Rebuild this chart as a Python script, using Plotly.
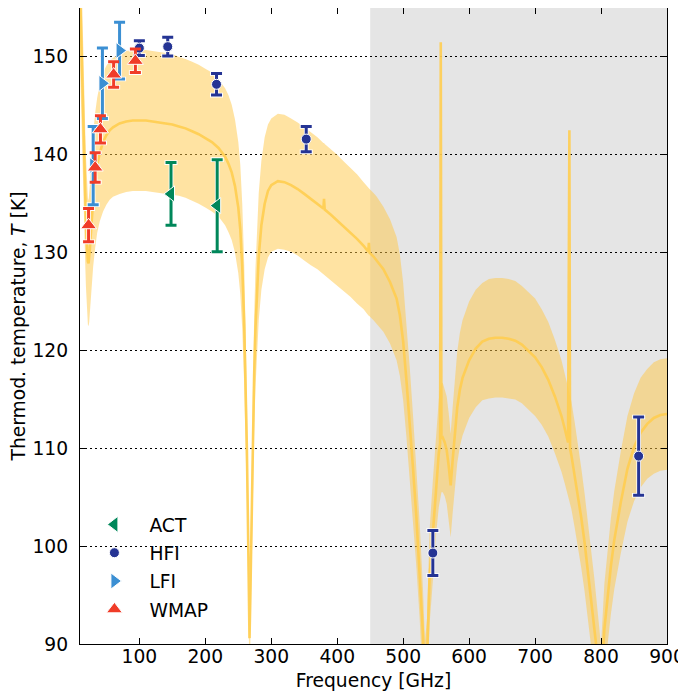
import plotly.graph_objects as go

# ---------------- data ----------------
freq = [10, 11, 12, 13, 14, 15, 16, 17, 18, 19, 20, 21, 22, 23, 24, 25, 26, 28, 30, 33, 36, 40, 45, 50, 55, 60, 70, 80, 90, 100,
        110, 120, 130, 140, 150, 160, 170, 180, 190, 200, 210, 220, 230, 235, 240, 245, 250, 253, 256, 259, 261, 263, 264, 265, 266, 267, 268, 269, 270, 271,
        272, 274, 276, 278, 281, 285, 290, 295, 300, 310, 320, 330, 340, 350, 360, 370, 379, 380, 381, 390, 400, 410, 420, 430, 440, 447, 448, 449, 455, 460,
        470, 480, 490, 495, 500, 505, 510, 515, 520, 525, 530, 533, 536, 540, 545, 550, 554, 556, 557, 558, 560, 563, 566, 569, 572, 575, 578, 582, 586, 590,
        600, 610, 620, 630, 640, 650, 660, 670, 680, 690, 700, 710, 720, 730, 740, 745, 750, 752, 753, 755, 760, 765, 770, 775, 780, 785, 790, 795, 800, 805,
        810, 815, 820, 830, 840, 850, 860, 870, 880, 890, 900]

model_T = [157.0, 154.0, 151.0, 148.4, 145.6, 143.0, 140.5, 138.0, 135.5, 133.2, 131.3, 129.9, 129.1, 128.9, 129.4, 130.4, 131.5, 133.6, 135.4, 137.4, 138.9, 140.2, 141.3, 142.0, 142.5, 142.8, 143.2, 143.4, 143.5, 143.5,
           143.5, 143.4, 143.3, 143.2, 143.1, 142.9, 142.7, 142.4, 142.1, 141.7, 141.3, 140.7, 139.8, 139.1, 138.2, 136.8, 134.6, 132.4, 128.6, 122.6, 117.2, 110.0, 105.4, 100.4, 95.2, 90.6, 93.8, 98.6, 103.2, 107.4,
           111.2, 117.4, 122.2, 125.8, 129.6, 132.8, 135.0, 136.3, 136.9, 137.3, 137.2, 136.9, 136.5, 136.0, 135.5, 135.0, 134.5, 135.5, 134.4, 133.9, 133.3, 132.7, 132.1, 131.4, 130.7, 130.1, 131.0, 130.0, 129.6, 129.2,
           128.3, 127.0, 125.3, 123.6, 120.9, 116.9, 112.6, 107.9, 103.0, 97.5, 91.0, 86.0, 88.0, 96.8, 101.6, 106.6, 109.5, 110.5, 151.5, 111.0, 111.1, 110.6, 109.8, 108.2, 106.2, 108.8, 111.5, 114.2, 116.0, 117.2,
           119.0, 120.2, 120.9, 121.2, 121.3, 121.3, 121.2, 121.0, 120.6, 120.0, 119.3, 118.3, 117.0, 115.3, 113.3, 112.0, 110.6, 142.5, 110.0, 109.3, 107.3, 105.2, 102.9, 100.4, 97.6, 95.0, 92.0, 88.8, 85.5, 91.5,
           95.0, 98.0, 100.6, 104.5, 107.9, 110.1, 111.6, 112.5, 113.1, 113.4, 113.5]

model_lo = [149.2, 146.3, 143.5, 141.0, 138.3, 135.9, 133.5, 131.1, 128.7, 126.5, 124.7, 123.4, 122.6, 122.5, 122.9, 123.9, 124.9, 126.9, 128.6, 130.5, 132.0, 133.2, 134.2, 134.9, 135.4, 135.7, 136.0, 136.2, 136.3, 136.3,
            136.3, 136.2, 136.1, 136.0, 135.9, 135.8, 135.6, 135.3, 135.0, 134.6, 134.2, 133.7, 132.8, 132.1, 131.3, 130.0, 127.9, 125.8, 122.2, 116.5, 111.3, 104.5, 100.1, 95.4, 90.4, 86.1, 89.1, 93.7, 98.0, 102.0,
            105.6, 111.5, 116.1, 119.5, 123.1, 126.2, 128.3, 129.5, 130.1, 130.4, 130.3, 130.1, 129.7, 129.2, 128.7, 128.3, 127.8, 127.7, 127.7, 127.2, 126.6, 126.1, 125.5, 124.8, 124.2, 123.6, 123.5, 123.5, 123.1, 122.7,
            121.9, 120.7, 119.0, 117.4, 114.9, 111.1, 107.0, 102.5, 97.9, 92.6, 86.5, 81.7, 83.6, 92.0, 96.5, 101.3, 104.0, 105.0, 105.2, 105.5, 105.5, 105.1, 104.3, 102.8, 100.9, 103.4, 105.9, 108.5, 110.2, 111.3,
            113.1, 114.2, 114.9, 115.1, 115.2, 115.2, 115.1, 115.0, 114.6, 114.0, 113.3, 112.4, 111.2, 109.5, 107.6, 106.4, 105.1, 104.8, 104.5, 103.8, 101.9, 99.9, 97.8, 95.4, 92.7, 90.3, 87.4, 84.4, 81.2, 86.9,
            90.3, 93.1, 95.6, 99.3, 102.5, 104.6, 106.0, 106.9, 107.4, 107.7, 107.8]

model_hi = [164.9, 161.7, 158.6, 155.8, 152.9, 150.2, 147.5, 144.9, 142.3, 139.9, 137.9, 136.4, 135.6, 135.3, 135.9, 136.9, 138.1, 140.3, 142.2, 144.3, 145.8, 147.2, 148.4, 149.1, 149.6, 149.9, 150.4, 150.6, 150.7, 150.7,
            150.7, 150.6, 150.5, 150.4, 150.3, 150.0, 149.8, 149.5, 149.2, 148.8, 148.4, 147.7, 146.8, 146.1, 145.1, 143.6, 141.3, 139.0, 135.0, 128.7, 123.1, 115.5, 110.7, 105.4, 100.0, 95.1, 98.5, 103.5, 108.4, 112.8,
            116.8, 123.3, 128.3, 132.1, 136.1, 139.4, 141.8, 143.1, 143.7, 144.2, 144.1, 143.7, 143.3, 142.8, 142.3, 141.8, 141.2, 141.2, 141.1, 140.6, 140.0, 139.3, 138.7, 138.0, 137.2, 136.6, 136.6, 136.5, 136.1, 135.7,
            134.7, 133.4, 131.6, 129.8, 126.9, 122.7, 118.2, 113.3, 108.2, 102.4, 95.6, 90.3, 92.4, 101.6, 106.7, 111.9, 115.0, 116.0, 116.3, 116.6, 116.7, 116.1, 115.3, 113.6, 111.5, 114.2, 117.1, 119.9, 121.8, 123.1,
            125.0, 126.2, 126.9, 127.3, 127.4, 127.4, 127.3, 127.1, 126.6, 126.0, 125.3, 124.2, 122.9, 121.1, 119.0, 117.6, 116.1, 115.8, 115.5, 114.8, 112.7, 110.5, 108.0, 105.4, 102.5, 99.8, 96.6, 93.2, 89.8, 96.1,
            99.8, 102.9, 105.6, 109.7, 113.3, 115.6, 117.2, 118.1, 118.8, 119.1, 119.2]

act_f = [148, 218]
act_T = [136.0, 134.8]
act_err = [3.2, 4.7]

hfi_f = [100, 143, 217, 353, 545, 857]
hfi_T = [150.9, 151.05, 147.2, 141.6, 99.3, 109.2]
hfi_err = [0.75, 0.95, 1.1, 1.3, 2.3, 4.0]

lfi_f = [30, 44, 70]
lfi_T = [138.9, 147.3, 150.65]
lfi_err = [4.0, 3.6, 2.9]

wmap_f = [23, 33, 41, 61, 94]
wmap_T = [132.8, 138.7, 142.6, 148.2, 149.6]
wmap_err = [1.7, 1.5, 1.4, 1.3, 1.2]

x_ticks = [100, 200, 300, 400, 500, 600, 700, 800, 900]
y_ticks = [90, 100, 110, 120, 130, 140, 150]

# ---------------- styles ----------------
FONT = "DejaVu Sans"
FS = 18.7
BAND = "rgba(255,200,70,0.5)"
LINE = "rgba(255,205,80,0.9)"
C_ACT = "#00875a"
C_HFI = "#253494"
C_LFI = "#3b8fd3"
C_WMAP = "#f03c28"

fig = go.Figure()

fig.add_trace(go.Scatter(x=freq, y=model_lo, mode="lines", line=dict(width=0, color=BAND),
                         showlegend=False, hoverinfo="skip"))
fig.add_trace(go.Scatter(x=freq, y=model_hi, mode="lines", line=dict(width=0, color=BAND),
                         fill="tonexty", fillcolor=BAND, showlegend=False, hoverinfo="skip"))
fig.add_trace(go.Scatter(x=freq, y=model_T, mode="lines", line=dict(width=2.6, color=LINE),
                         showlegend=False))

sets = [
    ("ACT", act_f, act_T, act_err, C_ACT, "triangle-left", 14),
    ("HFI", hfi_f, hfi_T, hfi_err, C_HFI, "circle", 10),
    ("LFI", lfi_f, lfi_T, lfi_err, C_LFI, "triangle-right", 14),
    ("WMAP", wmap_f, wmap_T, wmap_err, C_WMAP, "triangle-up", 14),
]

# white halo under the error bars
for name, fx, fy, fe, col, sym, sz in sets:
    fig.add_trace(go.Scatter(x=fx, y=fy, mode="markers",
                             marker=dict(size=1, color="rgba(0,0,0,0)"),
                             error_y=dict(type="data", array=fe, visible=True, color="white",
                                          thickness=4.6, width=6.5),
                             showlegend=False, hoverinfo="skip"))

for name, fx, fy, fe, col, sym, sz in sets:
    fig.add_trace(go.Scatter(x=fx, y=fy, mode="markers", name=name, legendgroup=name,
                             marker=dict(symbol=sym, size=sz, color=col,
                                         line=dict(color="white", width=1)),
                             error_y=dict(type="data", array=fe, visible=True, color=col,
                                          thickness=3, width=5.5)))

fig.add_shape(type="rect", xref="x", yref="paper", x0=450, x1=900, y0=0, y1=1,
              fillcolor="#e5e5e5", line=dict(width=0), layer="below")

axis_common = dict(ticks="inside", ticklen=6, tickwidth=1, tickcolor="black",
                   showline=True, linecolor="black", linewidth=1.3, mirror="ticks",
                   zeroline=False, automargin=False,
                   tickfont=dict(family=FONT, size=FS, color="black"))

fig.update_xaxes(range=[10, 900], tickvals=x_ticks, showgrid=False,
                 title=dict(text="Frequency [GHz]", font=dict(family=FONT, size=FS), standoff=8),
                 ticklabelstandoff=-5, **axis_common)
fig.update_yaxes(range=[90, 155], tickvals=y_ticks, showgrid=True, gridcolor="black",
                 gridwidth=1, griddash="1.5px,3.5px",
                 title=dict(text="Thermod. temperature, <i>T</i> [K]", font=dict(family=FONT, size=FS), standoff=2),
                 ticklabelstandoff=7, **axis_common)

# the page body adds an 8 px offset, so the figure is 8 px smaller and margins are shifted
fig.update_layout(
    width=678, height=683,
    margin=dict(l=72, r=19, t=0, b=47, autoexpand=False),
    paper_bgcolor="white", plot_bgcolor="white",
    font=dict(family=FONT, size=FS, color="black"),
    legend=dict(x=-0.001, y=0.024, xanchor="left", yanchor="bottom", itemwidth=60,
                bgcolor="rgba(0,0,0,0)", font=dict(family=FONT, size=FS),
                traceorder="grouped", tracegroupgap=1),
)

fig.write_html("out.html")
